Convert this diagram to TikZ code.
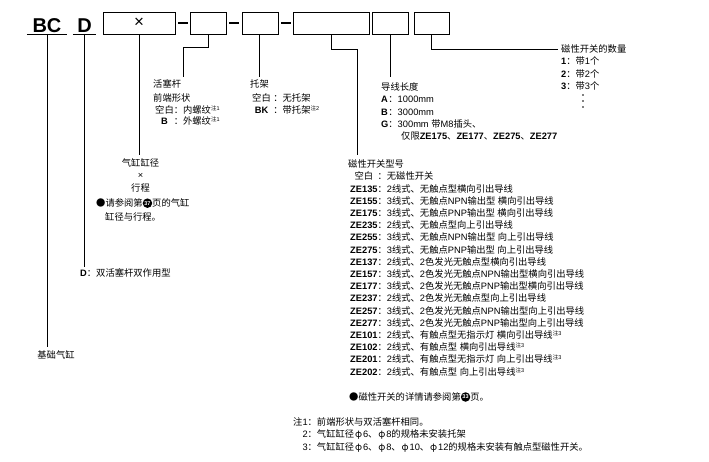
\documentclass[tikz,border=0pt]{standalone}
\usepackage{fontspec}
\setmainfont{Liberation Sans}
\newfontfamily\cjk{Noto Sans CJK SC}
\usetikzlibrary{calc,positioning}
\XeTeXinterchartokenstate=1
\newXeTeXintercharclass\cjkclass
\newcount\chrno
\newcommand{\cjkrange}[2]{\chrno=#1 \loop\XeTeXcharclass\chrno=\cjkclass \ifnum\chrno<#2 \advance\chrno by 1 \repeat}
\cjkrange{"4E00}{"9FFF}
\cjkrange{"3000}{"303F}
\cjkrange{"FF00}{"FFEF}
\XeTeXcharclass"25CF=\cjkclass
\XeTeXcharclass"03C6=\cjkclass
\XeTeXinterchartoks 0 \cjkclass = {\cjk}
\XeTeXinterchartoks 4095 \cjkclass = {\cjk}
\XeTeXinterchartoks \cjkclass 0 = {\rmfamily}
\XeTeXinterchartoks \cjkclass 4095 = {\rmfamily}
\newcommand{\zhu}[1]{\raisebox{0.6ex}{\fontsize{5.5}{6}\selectfont 注#1}}
\newcommand{\dia}{\makebox[0.95em]{φ}}
\newcommand{\pgnum}[1]{\raisebox{-1.2pt}{\tikz\node[circle,fill=black,text=white,inner sep=0pt,minimum size=9.5pt,font=\fontsize{5.5}{5.5}\selectfont\bfseries]{#1};}}

\begin{document}
\begin{tikzpicture}[x=1pt,y=-1pt]
		\tikzstyle{every node}=[font=\fontsize{9.3}{12.2}\selectfont, inner sep=0pt]
		\tikzstyle{codebox}=[draw, line width=0.8pt, minimum height=22pt]
		\tikzstyle{dashbar}=[fill, minimum width=10pt, minimum height=2.6pt]
		\tikzstyle{lbl}=[anchor=north west]
		\tikzstyle{conn}=[line width=0.8pt]
		\tikzstyle{bigcode}=[font=\fontsize{20}{20}\selectfont\bfseries, anchor=south, inner ysep=1.5pt]
		\useasboundingbox (0,0) rectangle (709,462);
		\node [bigcode, minimum width=40pt] (bc) at (47,34) {BC};
		\node [bigcode, minimum width=23pt] (d) at (84.5,34) {D};
		\draw [conn] (bc.south west) -- (bc.south east);
		\draw [conn] (d.south west) -- (d.south east);
		\node [codebox, minimum width=72pt, font=\fontsize{17}{17}\selectfont] (box1) at (139,23) {×};
		\node [codebox, minimum width=36pt] (box2) at (208,23) {};
		\node [codebox, minimum width=36pt] (box3) at (260,23) {};
		\node [codebox, minimum width=76pt] (box4) at (331,23) {};
		\node [codebox, minimum width=36pt] (box5) at (390,23) {};
		\node [codebox, minimum width=35pt] (box6) at (431.5,23) {};
		\node [dashbar] (dash1) at ($(box1.east)!0.5!(box2.west)$) {};
		\node [dashbar] (dash2) at ($(box2.east)!0.5!(box3.west)$) {};
		\node [dashbar] (dash3) at ($(box3.east)!0.5!(box4.west)$) {};
		\node (base) at (56,355) {基础气缸};
		\node [anchor=west] (dtype) at (80,273) {\textbf{D}：双活塞杆双作用型};
		\node [lbl, anchor=north] (bore) at (140.5,158) {\begin{tabular}{@{}c@{}}气缸缸径\\ ×\\ 行程\end{tabular}};
		\node [lbl] (borenote) at (96,198) {\begin{tabular}{@{}l@{}}●请参阅第\pgnum{37}页的气缸\\[1.8pt] \hspace{9pt}缸径与行程。\end{tabular}};
		\node [lbl] (rod) at (153,78.5) {\begin{tabular}{@{\hspace{2pt}}c@{：}l@{}}
			\multicolumn{2}{@{}l}{活塞杆}\\[2pt]
			\multicolumn{2}{@{}l}{前端形状}\\[-0.6pt]
			空白 & 内螺纹\zhu{1}\\[-0.6pt]
			\textbf{B} & 外螺纹\zhu{1}
		\end{tabular}};
		\node [lbl] (bracket) at (250,78.5) {\begin{tabular}{@{\hspace{2pt}}c@{ ：}l@{}}
			\multicolumn{2}{@{}l}{托架}\\[2pt]
			空白 & 无托架\\[-0.6pt]
			\textbf{BK} & 带托架\zhu{2}
		\end{tabular}};
		\node [lbl] (lead) at (381,82) {\begin{tabular}{@{}l@{：}l@{}}
			\multicolumn{2}{@{}l}{导线长度}\\
			\textbf{A} & 1000mm\\
			\textbf{B} & 3000mm\\
			\textbf{G} & 300mm 带M8插头、\\
			\multicolumn{2}{@{\hspace{20pt}}l@{}}{仅限\textbf{ZE175}、\textbf{ZE177}、\textbf{ZE275}、\textbf{ZE277}}
		\end{tabular}};
		\node [lbl] (qty) at (561,44) {\begin{tabular}{@{}l@{：}l@{}}
			\multicolumn{2}{@{}l}{磁性开关的数量}\\
			\textbf{1} & 带1个\\
			\textbf{2} & 带2个\\
			\textbf{3} & 带3个
		\end{tabular}};
		\foreach \yy in {95,101,107}
			\fill (583,\yy) circle (0.9);
		\node [lbl] (swt) at (348,159) {\begin{tabular}{@{\hspace{2pt}}c@{：}l@{}}
			\multicolumn{2}{@{}l}{磁性开关型号}\\
			空白 & 无磁性开关\\
			\textbf{ZE135} & 2线式、无触点型横向引出导线\\
			\textbf{ZE155} & 3线式、无触点NPN输出型 横向引出导线\\
			\textbf{ZE175} & 3线式、无触点PNP输出型 横向引出导线\\
			\textbf{ZE235} & 2线式、无触点型向上引出导线\\
			\textbf{ZE255} & 3线式、无触点NPN输出型 向上引出导线\\
			\textbf{ZE275} & 3线式、无触点PNP输出型 向上引出导线\\
			\textbf{ZE137} & 2线式、2色发光无触点型横向引出导线\\
			\textbf{ZE157} & 3线式、2色发光无触点NPN输出型横向引出导线\\
			\textbf{ZE177} & 3线式、2色发光无触点PNP输出型横向引出导线\\
			\textbf{ZE237} & 2线式、2色发光无触点型向上引出导线\\
			\textbf{ZE257} & 3线式、2色发光无触点NPN输出型向上引出导线\\
			\textbf{ZE277} & 3线式、2色发光无触点PNP输出型向上引出导线\\
			\textbf{ZE101} & 2线式、有触点型无指示灯 横向引出导线\zhu{3}\\
			\textbf{ZE102} & 2线式、有触点型 横向引出导线\zhu{3}\\
			\textbf{ZE201} & 2线式、有触点型无指示灯 向上引出导线\zhu{3}\\
			\textbf{ZE202} & 2线式、有触点型 向上引出导线\zhu{3}
		\end{tabular}};
		\node [anchor=west] (swtnote) at (349,397) {●磁性开关的详情请参阅第\pgnum{33}页。};
		\node [lbl] (notes) at (293,416.5) {\begin{tabular}{@{}r@{：}l@{}}
			注1 & 前端形状与双活塞杆相同。\\[0.3pt]
			2 & 气缸缸径\dia 6、\dia 8的规格未安装托架\\[0.3pt]
			3 & 气缸缸径\dia 6、\dia 8、\dia 10、\dia 12的规格未安装有触点型磁性开关。
		\end{tabular}};
		\coordinate (k2) at (183,47);
		\coordinate (k4) at (357,49);
		\coordinate (k6) at (558,49);
		\draw [conn, shorten >=3.5pt] (bc.south) -- (bc.south |- base.north);
		\draw [conn, shorten >=1.5pt] (d.south) -- (d.south |- dtype.north);
		\draw [conn, shorten >=3pt] (box1.south) -- (box1.south |- bore.north);
		\draw [conn, shorten >=1pt] (box2.south) |- (k2) -- (k2 |- rod.north);
		\draw [conn, shorten >=1pt] ([xshift=-1pt]box3.south) -- ([xshift=-1pt]box3.south |- bracket.north);
		\draw [conn, shorten >=4pt] (box4.south) |- (k4) -- (k4 |- swt.north);
		\draw [conn, shorten >=5pt] (box5.south) -- (box5.south |- lead.north);
		\draw [conn] (box6.south) |- (k6);
\end{tikzpicture}
\end{document}
